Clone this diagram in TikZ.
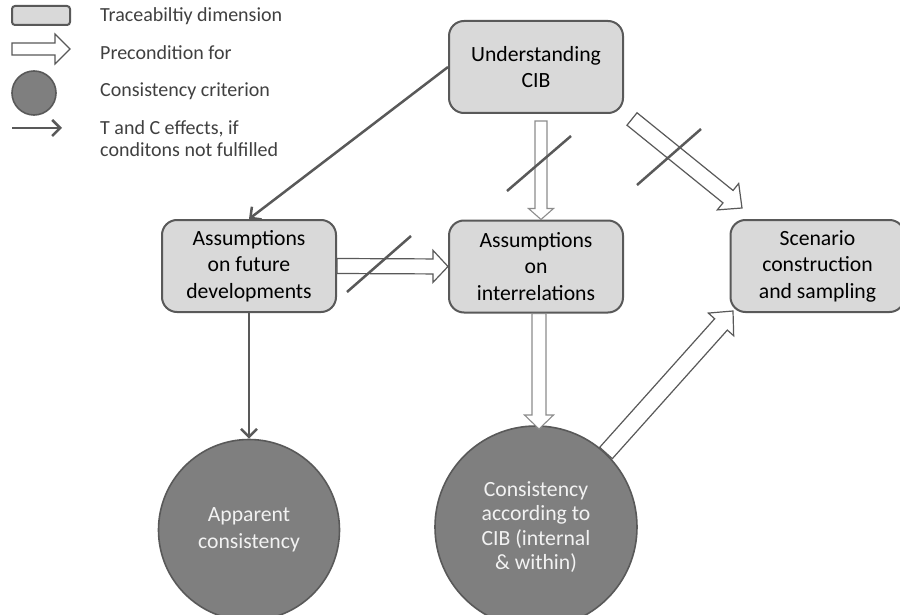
\documentclass[tikz,border=0pt]{standalone}
\usepackage{fontspec}
\setmainfont{Carlito}
\usetikzlibrary{arrows.meta,calc}

\definecolor{edgegray}{HTML}{595959}
\definecolor{boxfill}{HTML}{D9D9D9}
\definecolor{discfill}{HTML}{7F7F7F}
\definecolor{lightedge}{HTML}{8C8C8C}
\definecolor{legendtext}{HTML}{404040}

% hollow block arrow: [style] {tail} {tip} {half shaft} {half head} {head length}
\newcommand{\hollowarrow}[6][]{%
  \coordinate (hb) at ($(#3)!#6!(#2)$);
  \draw[blockarrow,#1]
    ($(#2)!#4!90:(#3)$) -- ($(hb)!#4!90:(#3)$) -- ($(hb)!#5!90:(#3)$) --
    (#3) --
    ($(hb)!#5!-90:(#3)$) -- ($(hb)!#4!-90:(#3)$) -- ($(#2)!#4!-90:(#3)$) -- cycle;
}

\tikzset{
  dimbox/.style={draw=edgegray, line width=2pt, fill=boxfill, rounded corners=15pt,
    minimum width=174pt, minimum height=92pt, inner sep=0pt, align=center,
    font=\fontsize{21.7}{26.5}\selectfont, text=black},
  critdisc/.style={circle, draw=edgegray, line width=1.6pt, fill=discfill,
    inner sep=0pt, align=center, text=white!95!black},
  effect/.style={draw=edgegray, line width=2.5pt,
    -{Straight Barb[length=8pt,width=16pt]}},
  blockarrow/.style={draw=edgegray, line width=1.2pt, fill=white, line join=miter},
  paleblock/.style={draw=lightedge, line width=1.1pt},
  strike/.style={draw=edgegray, line width=2.5pt},
  legendlabel/.style={anchor=west, inner sep=0pt, align=left, text=legendtext,
    font=\fontsize{20}{22}\selectfont},
}

\begin{document}
\begin{tikzpicture}[x=1pt, y=-1pt]
\useasboundingbox (0,0) rectangle (900,615);
\clip (0,0) rectangle (900,615);
\fill[white] (0,0) rectangle (900,615);

% legend
\node[draw=edgegray, line width=2pt, fill=boxfill, rounded corners=3pt,
      minimum width=58pt, minimum height=19pt, inner sep=0pt] (lgbox) at (41,15.5) {};
\coordinate (lgtail) at (12,49);
\coordinate (lgtip) at (70,49);
\hollowarrow{lgtail}{lgtip}{6pt}{15pt}{15pt}
\node[circle, draw=edgegray, line width=1.6pt, fill=discfill, minimum size=44pt,
      inner sep=0pt] (lgdisc) at (34,93) {};
\coordinate (lgfrom) at (12,128);
\coordinate (lgto) at (62,128);
\draw[effect] (lgfrom) -- (lgto);

\node[legendlabel] (lt1) at (100,16) {Traceabiltiy dimension};
\node[legendlabel] (lt2) at (100,53) {Precondition for};
\node[legendlabel] (lt3) at (100,91) {Consistency criterion};
\node[legendlabel] (lt4) at (100,139) {T and C effects, if\\conditons not fulfilled};

% traceability dimensions
\node[dimbox] (und) at (536,67) {Understanding\\CIB};
\node[dimbox] (fut) at (249,266) {Assumptions\\on future\\developments};
\node[dimbox] (inter) at (536,266.5) {Assumptions\\on\\interrelations};
\node[dimbox] (scen) at (817.5,266) {Scenario\\construction\\and sampling};

% consistency criteria
\node[critdisc, minimum size=181pt, font=\fontsize{21.7}{26.5}\selectfont]
  (app) at (249,530) {Apparent\\consistency};
\node[critdisc, minimum size=202pt, font=\fontsize{21.7}{24.5}\selectfont]
  (cib) at (536,527) {Consistency\\according to\\CIB (internal\\\& within)};

% effects
\draw[effect] (und.west) -- (fut.north);
\draw[effect] (fut.south) -- (app.north);

% preconditions
\coordinate (a1t) at ([xshift=5pt]und.south |- 0,121);
\coordinate (a1h) at ([xshift=5pt]inter.north);
\hollowarrow[paleblock]{a1t}{a1h}{6pt}{12.5pt}{11pt}

\coordinate (a2t) at (fut.east);
\coordinate (a2h) at (inter.west);
\hollowarrow{a2t}{a2h}{7.5pt}{16pt}{15pt}

\coordinate (a3t) at (632,119);
\coordinate (a3h) at (742,208);
\hollowarrow{a3t}{a3h}{8pt}{17pt}{18pt}

\coordinate (a4t) at ([xshift=3pt]inter.south);
\coordinate (a4h) at (539,429);
\hollowarrow[paleblock]{a4t}{a4h}{7pt}{14.5pt}{14pt}

\coordinate (a5t) at (606,453);
\coordinate (a5h) at (733,311);
\hollowarrow{a5t}{a5h}{8.5pt}{17pt}{18pt}

% unfulfilled preconditions are struck through
\draw[strike] (507,191) -- (571,136);
\draw[strike] (347,292) -- (411,236);
\draw[strike] (637,185) -- (701,129);
\end{tikzpicture}
\end{document}
